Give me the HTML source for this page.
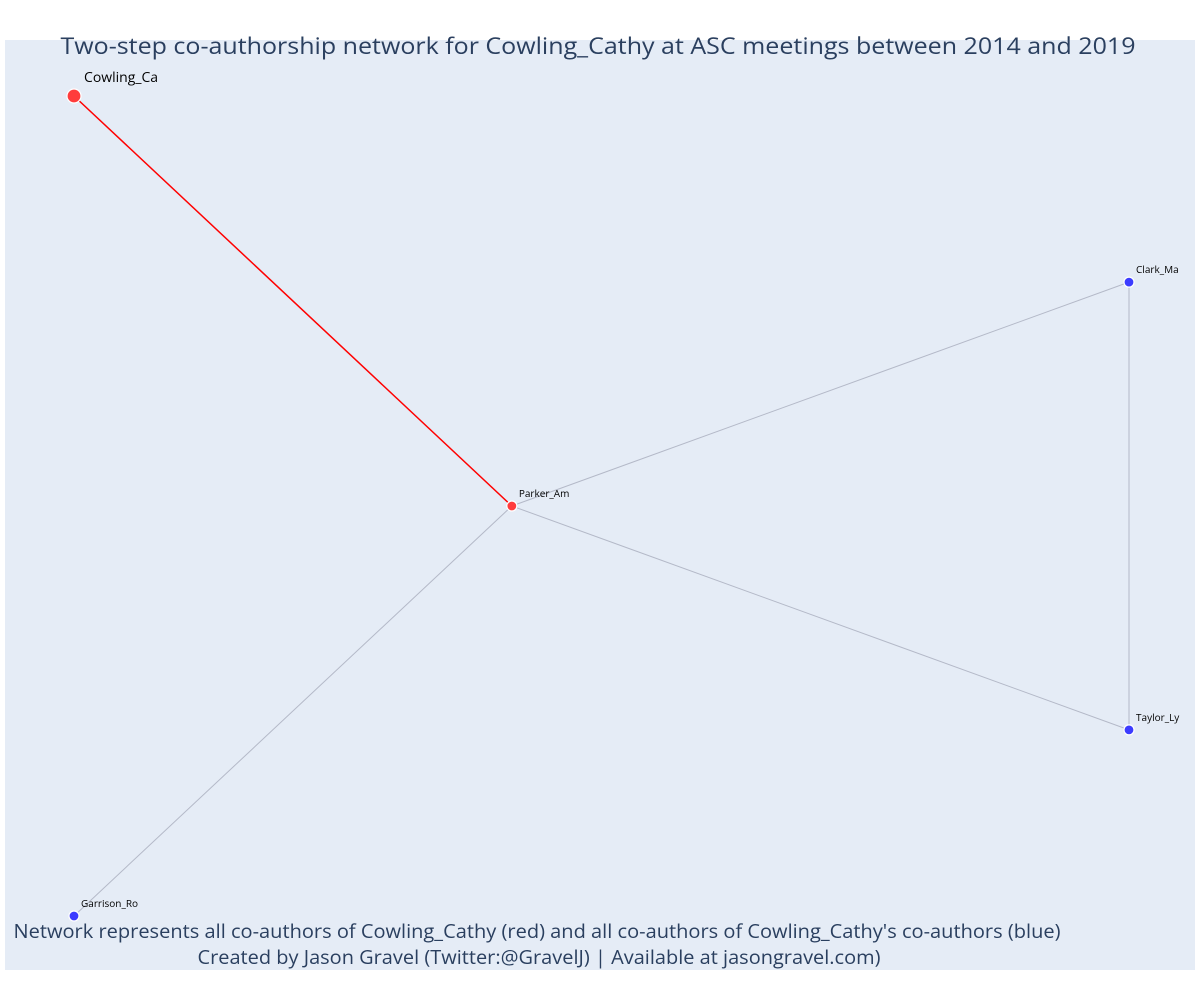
<!DOCTYPE html>
<html><head><meta charset="utf-8"><style>
html,body{margin:0;padding:0;background:#fff;}
svg{display:block;font-family:"Open Sans","Liberation Sans",sans-serif;}
</style></head><body>
<svg id="chart" width="1200" height="1000">
<rect x="5" y="40" width="1190" height="930" fill="#e5ecf6"/>
<g id="edges"></g><g id="nodes"></g>
<text x="598" y="54" text-anchor="middle" font-size="23" fill="#2a3f5f" textLength="1075" lengthAdjust="spacingAndGlyphs">Two-step co-authorship network for Cowling_Cathy at ASC meetings between 2014 and 2019</text>
<text x="537" y="938" text-anchor="middle" font-size="19.5" fill="#2a3f5f" textLength="1047" lengthAdjust="spacingAndGlyphs">Network represents all co-authors of Cowling_Cathy (red) and all co-authors of Cowling_Cathy's co-authors (blue)</text>
<text x="539" y="964" text-anchor="middle" font-size="19.5" fill="#2a3f5f" textLength="683" lengthAdjust="spacingAndGlyphs">Created by Jason Gravel (Twitter:@GravelJ) | Available at jasongravel.com)</text>
</svg>
<script>
const names=["Cowling_Ca","Parker_Am","Clark_Ma","Taylor_Ly","Garrison_Ro"];
const xs=[0,0.415,1,1,0];
const ys=[1,0.5,0.773,0.227,0];
const group=["ego","red","blue","blue","blue"];
const edgesFrom=[0,1,1,1,2];
const edgesTo=[1,2,3,4,3];
const NS="http://www.w3.org/2000/svg";
const sx=v=>74+v*1055, sy=v=>916-v*820;
const eg=document.getElementById('edges'), ng=document.getElementById('nodes');
for(let i=0;i<edgesFrom.length;i++){
  const a=edgesFrom[i],b=edgesTo[i];
  const l=document.createElementNS(NS,'line');
  l.setAttribute('x1',sx(xs[a]));l.setAttribute('y1',sy(ys[a]));
  l.setAttribute('x2',sx(xs[b]));l.setAttribute('y2',sy(ys[b]));
  const red=(a===0||b===0);
  l.setAttribute('stroke',red?'#ff0000':'#b4b9c8');
  l.setAttribute('stroke-width',red?1.5:1);
  
  
  eg.appendChild(l);
}
for(let i=0;i<names.length;i++){
  const c=document.createElementNS(NS,'circle');
  const x=sx(xs[i]),y=sy(ys[i]);
  c.setAttribute('cx',x);c.setAttribute('cy',y);
  c.setAttribute('r',group[i]==='ego'?7:5);
  c.setAttribute('fill',group[i]==='blue'?'#3c3cff':'#ff3c3c');
  c.setAttribute('stroke','#fff');c.setAttribute('stroke-width',1.2);
  
  
  ng.appendChild(c);
  const t=document.createElementNS(NS,'text');
  const big=group[i]==='ego';
  t.setAttribute('x',x+(big?10:7));t.setAttribute('y',y-(big?14:9));
  t.setAttribute('font-size',big?14:10);t.setAttribute('fill','#000');
  t.textContent=names[i];
  
  
  ng.appendChild(t);
}
</script>
</body></html>
